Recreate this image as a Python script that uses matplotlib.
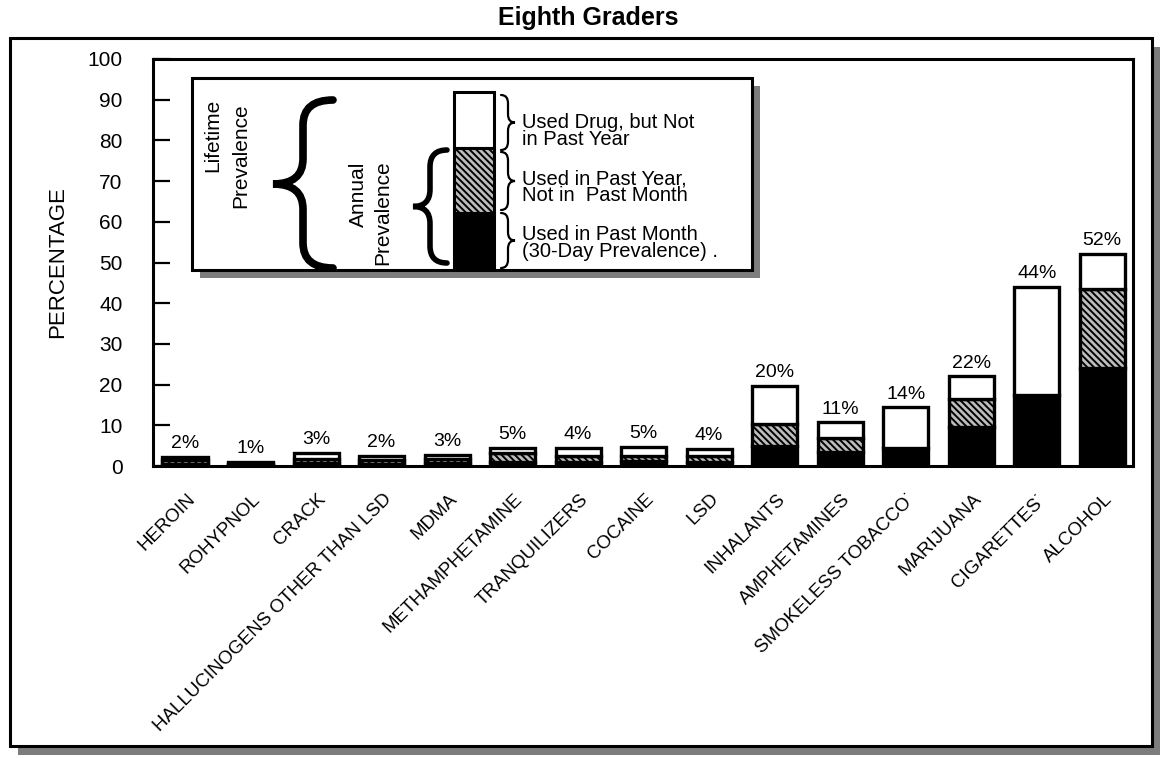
import numpy as np
import matplotlib
matplotlib.use("Agg")
import matplotlib.pyplot as plt
from matplotlib.patches import Rectangle, PathPatch
from matplotlib.path import Path

plt.rcParams['font.family'] = ['Liberation Sans', 'DejaVu Sans']
plt.rcParams['hatch.linewidth'] = 1.4

# data: lifetime / annual / 30-day prevalence, eighth graders (%)
drugs = ["HEROIN", "ROHYPNOL", "CRACK", "HALLUCINOGENS OTHER THAN LSD", "MDMA",
         "METHAMPHETAMINE", "TRANQUILIZERS", "COCAINE", "LSD", "INHALANTS",
         "AMPHETAMINES", "SMOKELESS TOBACCO\u02d9", "MARIJUANA", "CIGARETTES\u02d9", "ALCOHOL"]
lifetime = [2.3, 1.1, 3.1, 2.4, 2.7, 4.5, 4.4, 4.7, 4.1, 19.7, 10.7, 14.4, 22.0, 44.1, 52.1]
annual = [1.4, 0.6, 1.8, 1.4, 1.7, 3.2, 2.5, 2.4, 2.4, 10.3, 6.9, np.nan, 16.5, np.nan, 43.5]
month = [0.6, 0.3, 0.8, 0.6, 0.8, 1.1, 1.1, 1.3, 1.1, 5.0, 3.4, 4.4, 9.7, 17.5, 24.0]
pct_labels = ["2%", "1%", "3%", "2%", "3%", "5%", "4%", "5%", "4%", "20%", "11%", "14%", "22%", "44%", "52%"]

W, H = 1160, 758
SHADE = "#7d7d7d"
HATCH_FC = "#bdbdbd"


def F(x, y):
    # pixel (from top-left) -> figure fraction
    return (x / W, 1 - y / H)


fig = plt.figure(figsize=(11.6, 7.58), dpi=100)

# outer frame with stippled shadow
fig.add_artist(Rectangle(F(18, 755), 1142 / W, 708 / H, transform=fig.transFigure,
                         facecolor=SHADE, edgecolor="none", zorder=-3))
fig.add_artist(Rectangle(F(10, 746), 1142 / W, 708 / H, transform=fig.transFigure,
                         facecolor="white", edgecolor="black", lw=2.2, zorder=-2))

fig.text(588 / W, 1 - 18 / H, "Eighth Graders", ha="center", va="center",
         fontsize=18, fontweight="bold")

ax = fig.add_axes([153 / W, 1 - 466 / H, (1133 - 153) / W, (466 - 59) / H])
ax.patch.set_alpha(0)

x = np.arange(len(drugs))
month = np.array(month)
annual = np.array(annual)
lifetime = np.array(lifetime)
mid = np.where(np.isnan(annual), 0, annual - month)
top_base = month + mid
top = lifetime - top_base

bw = 0.69
ax.bar(x, month, bw, color="black", edgecolor="black", lw=2.4)
ax.bar(x, mid, bw, bottom=month, color=HATCH_FC, edgecolor="black", lw=2.4,
       hatch="\\\\\\\\\\")
ax.bar(x, top, bw, bottom=top_base, color="white", edgecolor="black", lw=2.4)

for i in x:
    ax.text(i, lifetime[i] + 1.2, pct_labels[i], ha="center", va="bottom", fontsize=14)
    ax.text(i + 0.02, -6.0, drugs[i], rotation=45, ha="right", va="top",
            rotation_mode="anchor", fontsize=13.5)

ax.set_xlim(-0.49, 14.47)
ax.set_ylim(0, 100)
ax.set_xticks([])
ax.set_yticks(np.arange(0, 101, 10))
ax.tick_params(axis="y", direction="in", length=12, width=1.6, pad=22, labelsize=15)
for s in ax.spines.values():
    s.set_linewidth(2.2)
ax.set_ylabel("PERCENTAGE", fontsize=16, labelpad=14)

# legend box
lx0, ly0, lx1, ly1 = 192, 78, 752, 270
fig.add_artist(Rectangle(F(lx0 + 8, ly1 + 8), (lx1 - lx0) / W, (ly1 - ly0) / H,
                         transform=fig.transFigure, facecolor=SHADE,
                         edgecolor="none", zorder=3))
fig.add_artist(Rectangle(F(lx0, ly1), (lx1 - lx0) / W, (ly1 - ly0) / H,
                         transform=fig.transFigure, facecolor="white",
                         edgecolor="black", lw=2.2, zorder=4))

# legend sample bar
bx0, bx1 = 454, 494
segs = [(92, 148, "white", None), (148, 213, HATCH_FC, "\\\\\\\\\\"), (213, 267, "black", None)]
for yt, yb, fc, hh in segs:
    fig.add_artist(Rectangle(F(bx0, yb), (bx1 - bx0) / W, (yb - yt) / H,
                             transform=fig.transFigure, facecolor=fc, hatch=hh,
                             edgecolor="black", lw=2.2, zorder=5))


def brace(xtip, xback, ytop, ybot, lw):
    ym = (ytop + ybot) / 2
    xm = (xtip + xback) / 2
    d = min(abs(xback - xtip) * 0.6, (ybot - ytop) * 0.15)
    pts = [(xback, ytop), (xm, ytop), (xm, ytop + d), (xm, ym - d), (xm, ym), (xtip, ym),
           (xm, ym), (xm, ym + d), (xm, ybot - d), (xm, ybot), (xback, ybot)]
    codes = [Path.MOVETO, Path.CURVE3, Path.CURVE3, Path.LINETO, Path.CURVE3, Path.CURVE3,
             Path.CURVE3, Path.CURVE3, Path.LINETO, Path.CURVE3, Path.CURVE3]
    p = Path([F(*pt) for pt in pts], codes)
    fig.add_artist(PathPatch(p, transform=fig.transFigure, fill=False, lw=lw,
                             edgecolor="black", capstyle="round", zorder=6))


brace(273, 333, 100, 268, 5.5)
brace(413, 447, 150, 263, 4)
brace(515, 501, 95, 150, 1.6)
brace(515, 501, 152, 210, 1.6)
brace(515, 501, 213, 268, 1.6)

# rotated captions, lines aligned at their ends (top)
for xx, yy, t in [(213, 99, "Lifetime"), (241, 103, "Prevalence"),
                  (358, 162, "Annual"), (383, 160, "Prevalence")]:
    fig.text(xx / W, 1 - yy / H, t, rotation=90, ha="center", va="top",
             fontsize=15, zorder=6)

leg_txt = ["Used Drug, but Not\nin Past Year", "Used in Past Year,\nNot in  Past Month",
           "Used in Past Month\n(30-Day Prevalence) ."]
leg_y = [131, 187, 243]
for t, yy in zip(leg_txt, leg_y):
    fig.text(522 / W, 1 - yy / H, t, ha="left", va="center", fontsize=14.5,
             linespacing=0.85, zorder=6)

fig.savefig("out.png", dpi=100)
